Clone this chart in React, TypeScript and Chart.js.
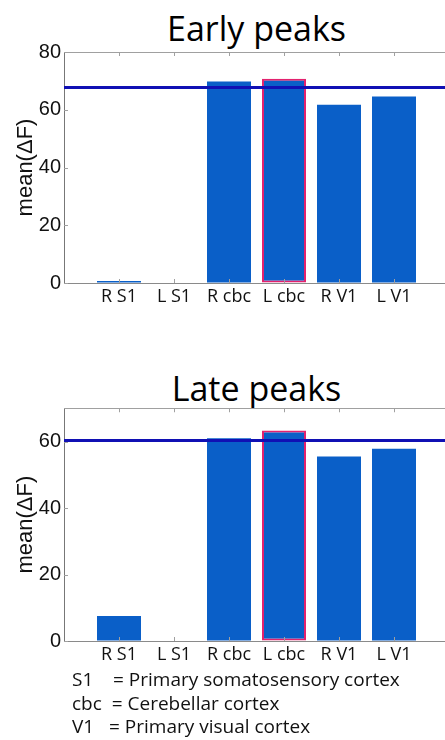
import React, { useEffect, useRef } from 'react';
import { Chart, registerables } from 'chart.js';

Chart.register(...registerables);

const categories = ['R S1', 'L S1', 'R cbc', 'L cbc', 'R V1', 'L V1'];
const earlyValues = [0.7, 0, 69.8, 70.7, 61.7, 64.6];
const lateValues = [7.5, 0, 61.0, 63.3, 55.5, 57.8];
const earlyReference = 67.7;
const lateReference = 60.3;
const highlightedCategory = 'L cbc';
const earlyYTicks = [0, 20, 40, 60, 80];
const lateYTicks = [0, 20, 40, 60];
const earlyYMax = 80;
const lateYMax = 70;
const legendLines = [
  'S1    = Primary somatosensory cortex',
  'cbc  = Cerebellar cortex',
  'V1   = Primary visual cortex',
];

const BAR_COLOR = '#0a5fc8';
const REF_COLOR = '#1010b4';
const HIGHLIGHT_COLOR = '#e3226e';
const AXIS_COLOR = '#8a8a8a';

const framePlugin = {
  id: 'matlabFrame',
  afterDatasetsDraw(chart: any) {
    const { ctx, chartArea, scales } = chart;
    const { left, right, top, bottom } = chartArea;
    const x = scales.x;
    const y = scales.y;
    ctx.save();
    ctx.strokeStyle = '#a0a0a0';
    ctx.lineWidth = 1;
    ctx.beginPath();
    ctx.moveTo(left, Math.round(top) + 0.5);
    ctx.lineTo(right, Math.round(top) + 0.5);
    x.ticks.forEach((t: any) => {
      const px = Math.round(x.getPixelForValue(t.value)) + 0.5;
      ctx.moveTo(px, bottom);
      ctx.lineTo(px, bottom - 4);
      ctx.moveTo(px, top);
      ctx.lineTo(px, top + 4);
    });
    y.ticks.forEach((t: any) => {
      const py = Math.round(y.getPixelForValue(t.value)) + 0.5;
      ctx.moveTo(left, py);
      ctx.lineTo(left + 4, py);
    });
    ctx.stroke();
    ctx.restore();
  },
};

type PanelProps = {
  title: string;
  values: number[];
  reference: number;
  yMax: number;
  yTicks: number[];
  top: number;
  height: number;
  padTop: number;
  xAxisHeight: number;
  titleTop: number;
};

function Panel(p: PanelProps) {
  const ref = useRef<HTMLCanvasElement | null>(null);
  useEffect(() => {
    if (!ref.current) return;
    const hi = categories.indexOf(highlightedCategory);
    const chart = new Chart(ref.current, {
      data: {
        datasets: [
          {
            type: 'line',
            data: [
              { x: 0, y: p.reference },
              { x: categories.length + 1, y: p.reference },
            ],
            borderColor: REF_COLOR,
            borderWidth: 3,
            pointRadius: 0,
            order: 0,
          } as any,
          {
            type: 'bar',
            data: p.values.map((v, i) => ({ x: i + 1, y: v })),
            backgroundColor: BAR_COLOR,
            borderColor: categories.map((_, i) => (i === hi ? HIGHLIGHT_COLOR : 'rgba(0,0,0,0)')),
            borderWidth: categories.map((_, i) => (i === hi ? 2 : 0)),
            borderSkipped: false,
            barPercentage: 0.8,
            categoryPercentage: 1,
            order: 1,
          } as any,
        ],
      },
      options: {
        responsive: false,
        animation: false,
        layout: { padding: { left: 0, right: 11, top: p.padTop, bottom: 0 } },
        plugins: {
          legend: { display: false },
          tooltip: { enabled: false },
          title: { display: false },
        },
        scales: {
          x: {
            type: 'linear',
            offset: false,
            min: 0,
            max: categories.length + 1,
            grid: { display: true, offset: false, drawOnChartArea: false, drawTicks: false, color: AXIS_COLOR },
            border: { display: true, color: AXIS_COLOR, width: 1 },
            afterBuildTicks: (scale: any) => {
              scale.ticks = categories.map((_, i) => ({ value: i + 1 }));
            },
            afterFit: (scale: any) => {
              scale.height = p.xAxisHeight;
            },
            ticks: {
              autoSkip: false,
              maxRotation: 0,
              padding: 3,
              color: '#111',
              font: { family: '"Open Sans"', size: 18 },
              callback: (v: any) => categories[Number(v) - 1] ?? '',
            },
          },
          y: {
            type: 'linear',
            min: 0,
            max: p.yMax,
            grid: { display: true, drawOnChartArea: false, drawTicks: false, color: AXIS_COLOR },
            border: { display: true, color: '#777', width: 1 },
            afterBuildTicks: (scale: any) => {
              scale.ticks = p.yTicks.map((v) => ({ value: v }));
            },
            afterFit: (scale: any) => {
              scale.width = 64;
            },
            title: {
              display: true,
              text: 'mean(ΔF)',
              color: '#111',
              font: { family: '"Liberation Sans"', size: 22 },
              padding: { top: 13, bottom: 0 },
            },
            ticks: {
              padding: 3,
              color: '#111',
              font: { family: '"Liberation Sans"', size: 20 },
            },
          },
        },
      },
      plugins: [framePlugin],
    } as any);
    return () => chart.destroy();
  }, []);
  return (
    <>
      <div
        style={{
          position: 'absolute',
          left: 64,
          width: 385,
          top: p.titleTop,
          textAlign: 'center',
          fontFamily: '"Open Sans"',
          fontSize: 34,
          lineHeight: '40px',
          color: '#000',
          whiteSpace: 'nowrap',
        }}
      >
        {p.title}
      </div>
      <canvas
        ref={ref}
        width={460}
        height={p.height}
        style={{ position: 'absolute', left: 0, top: p.top, width: 460, height: p.height }}
      />
    </>
  );
}

export default function App() {
  return (
    <div
      style={{
        position: 'absolute',
        left: 0,
        top: 0,
        width: 445,
        height: 740,
        overflow: 'hidden',
        background: '#fff',
      }}
    >
      <Panel
        title="Early peaks"
        values={earlyValues}
        reference={earlyReference}
        yMax={earlyYMax}
        yTicks={earlyYTicks}
        top={0}
        height={320}
        padTop={52}
        xAxisHeight={37}
        titleTop={8}
      />
      <Panel
        title="Late peaks"
        values={lateValues}
        reference={lateReference}
        yMax={lateYMax}
        yTicks={lateYTicks}
        top={340}
        height={340}
        padTop={68.25}
        xAxisHeight={39}
        titleTop={368}
      />
      <div
        style={{
          position: 'absolute',
          left: 72,
          top: 668,
          fontFamily: '"Open Sans"',
          fontSize: 19,
          lineHeight: '23.5px',
          color: '#111',
          whiteSpace: 'pre',
        }}
      >
        {legendLines.map((l) => (
          <div key={l}>{l}</div>
        ))}
      </div>
    </div>
  );
}
